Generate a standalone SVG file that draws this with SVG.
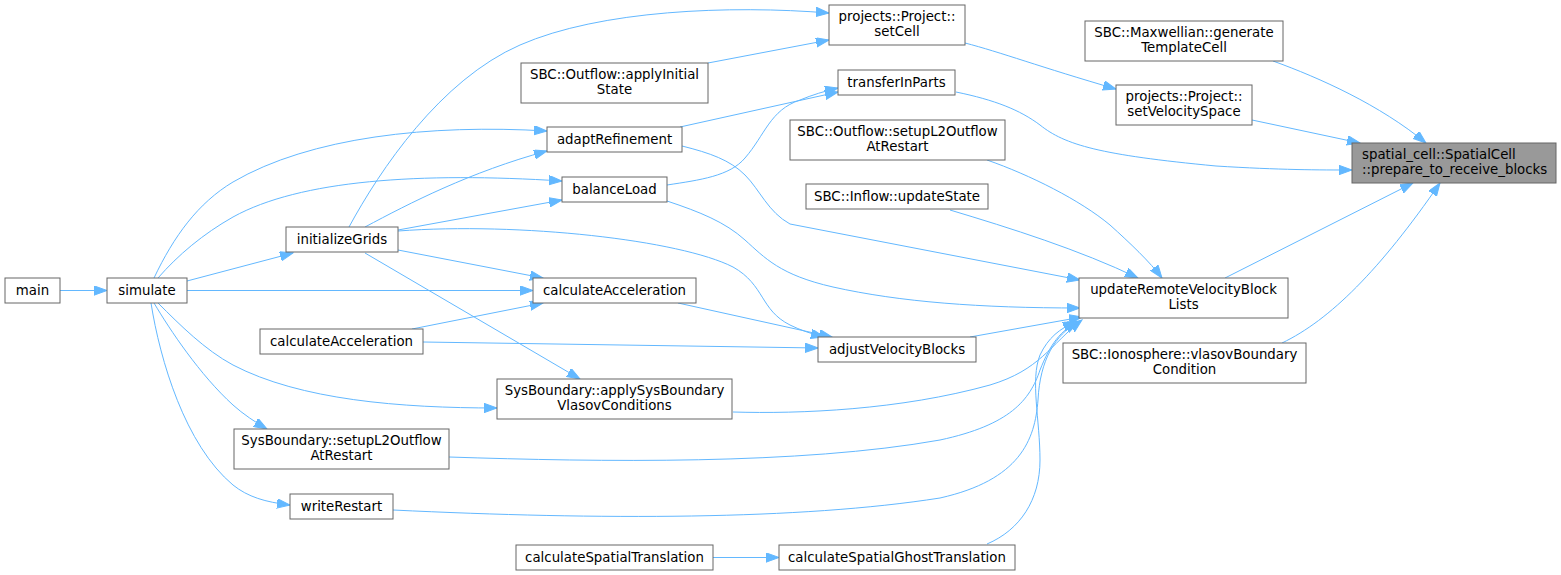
<svg xmlns="http://www.w3.org/2000/svg" width="1561" height="575" viewBox="0 0 1561 575">
<style>
.n rect{fill:#ffffff;stroke:#666666;stroke-width:1}
.n text{font-family:"DejaVu Sans",sans-serif;font-size:13.33px;fill:#000000;text-anchor:middle}
.hl rect{fill:#999999}
.hl text{text-anchor:start}
.e path{fill:none;stroke:#63b8ff;stroke-width:1;marker-end:url(#ah)}
</style>
<defs>
<marker id="ah" markerUnits="userSpaceOnUse" markerWidth="14" markerHeight="10" refX="13" refY="4.7" orient="auto">
<path d="M0,0 L13,4.7 L0,9.4 Z" fill="#63b8ff" stroke="#63b8ff" stroke-width="1"/>
</marker>
</defs>
<rect x="0" y="0" width="1561" height="575" fill="#ffffff"/>
<g id="connectors" class="e">
<path d="M60,290.5 L107,290.5"/>
<path d="M187,281 L293,253"/>
<path d="M154,278 C174,236 198,203 233,182 C310,137 430,124 547,131"/>
<path d="M158,278 C178,255 203,234 233,217 C300,180 420,172 562,181"/>
<path d="M187,290.5 L533,290.5"/>
<path d="M158,303 C180,325 205,350 233,365 C300,400 400,408 497,408"/>
<path d="M154,303 C170,330 200,375 233,405 C243,414 255,422 267,429"/>
<path d="M151,303 C160,360 185,445 233,485 C248,497 265,502 290,505"/>
<path d="M349,227 C380,170 440,80 520,45 C600,10 730,5 829,13"/>
<path d="M708,63 L829,40"/>
<path d="M365,227 C410,203 470,172 547,151"/>
<path d="M398,230 L562,200"/>
<path d="M398,231 C520,222 680,240 733,267 C765,285 760,310 790,325 C800,330 812,334 824,337"/>
<path d="M398,250 L543,278"/>
<path d="M412,329 L543,303"/>
<path d="M365,253 L580,379"/>
<path d="M423,342 L818,348"/>
<path d="M678,303 L832,337"/>
<path d="M680,127 L838,92"/>
<path d="M667,185 C700,180 730,176 745,158 C765,135 770,110 800,100 C812,95 825,91 838,88"/>
<path d="M682,146 C710,153 730,160 745,175 C760,190 768,212 790,224 L1080,280"/>
<path d="M667,201 C700,212 725,222 745,240 C765,258 780,275 833,287 C900,302 980,308 1080,308"/>
<path d="M970,337 L1082,317"/>
<path d="M733,412 C800,414 900,410 990,385 C1040,370 1050,345 1082,320"/>
<path d="M449,457 C600,462 800,465 940,440 C1010,425 1030,400 1040,370 C1050,345 1060,330 1080,321"/>
<path d="M393,510 C600,520 800,520 940,498 C1020,480 1035,440 1038,400 C1040,360 1055,335 1078,322"/>
<path d="M987,544 C1020,530 1040,500 1040,460 C1040,420 1030,380 1040,355 C1048,338 1060,328 1076,322"/>
<path d="M713,557.5 L779,557.5"/>
<path d="M987,160 C1030,175 1080,200 1110,225 C1130,243 1150,262 1162,278"/>
<path d="M950,210 C1010,228 1080,250 1138,278"/>
<path d="M965,43 C1000,52 1040,67 1116,89"/>
<path d="M1273,61 C1320,78 1380,105 1426,143"/>
<path d="M1252,120 L1360,143"/>
<path d="M956,92 C995,100 1020,110 1040,125 C1065,145 1100,155 1216,166 C1280,170 1320,170 1352,170"/>
<path d="M1225,278 L1413,183"/>
<path d="M1282,343 C1330,320 1380,270 1440,183"/>
</g>
<g id="node_main" class="n"><rect x="5" y="278" width="55" height="25"/><text x="32.5" y="294.5">main</text></g>
<g id="node_simulate" class="n"><rect x="107" y="278" width="80" height="25"/><text x="147" y="294.5">simulate</text></g>
<g id="node_initializeGrids" class="n"><rect x="286" y="227" width="112" height="25"/><text x="342" y="243.5">initializeGrids</text></g>
<g id="node_setCell" class="n"><rect x="829" y="5" width="136" height="40"/><text x="897" y="21">projects::Project::</text><text x="897" y="36">setCell</text></g>
<g id="node_applyInitialState" class="n"><rect x="521" y="63" width="187" height="40"/><text x="614.5" y="79">SBC::Outflow::applyInitial</text><text x="614.5" y="94">State</text></g>
<g id="node_transferInParts" class="n"><rect x="838" y="70" width="117" height="25"/><text x="896.5" y="86.5">transferInParts</text></g>
<g id="node_adaptRefinement" class="n"><rect x="547" y="127" width="135" height="25"/><text x="614.5" y="143.5">adaptRefinement</text></g>
<g id="node_outflowSetupL2" class="n"><rect x="790" y="120" width="215" height="40"/><text x="897.5" y="136">SBC::Outflow::setupL2Outflow</text><text x="897.5" y="151">AtRestart</text></g>
<g id="node_balanceLoad" class="n"><rect x="562" y="177" width="105" height="25"/><text x="614.5" y="193.5">balanceLoad</text></g>
<g id="node_inflowUpdateState" class="n"><rect x="806" y="184" width="182" height="25"/><text x="897" y="200.5">SBC::Inflow::updateState</text></g>
<g id="node_calcAccel1" class="n"><rect x="533" y="278" width="163" height="25"/><text x="614.5" y="294.5">calculateAcceleration</text></g>
<g id="node_calcAccel2" class="n"><rect x="260" y="329" width="163" height="25"/><text x="341.5" y="345.5">calculateAcceleration</text></g>
<g id="node_adjustVelocityBlocks" class="n"><rect x="818" y="337" width="158" height="25"/><text x="897" y="353.5">adjustVelocityBlocks</text></g>
<g id="node_applySysBoundary" class="n"><rect x="497" y="379" width="235" height="40"/><text x="614.5" y="395">SysBoundary::applySysBoundary</text><text x="614.5" y="410">VlasovConditions</text></g>
<g id="node_sysSetupL2" class="n"><rect x="234" y="429" width="215" height="40"/><text x="341.5" y="445">SysBoundary::setupL2Outflow</text><text x="341.5" y="460">AtRestart</text></g>
<g id="node_writeRestart" class="n"><rect x="290" y="494" width="103" height="25"/><text x="341.5" y="510.5">writeRestart</text></g>
<g id="node_calcSpatialTranslation" class="n"><rect x="516" y="545" width="197" height="25"/><text x="614.5" y="561.5">calculateSpatialTranslation</text></g>
<g id="node_calcSpatialGhost" class="n"><rect x="779" y="545" width="236" height="25"/><text x="897" y="561.5">calculateSpatialGhostTranslation</text></g>
<g id="node_generateTemplateCell" class="n"><rect x="1085" y="21" width="198" height="40"/><text x="1184" y="37">SBC::Maxwellian::generate</text><text x="1184" y="52">TemplateCell</text></g>
<g id="node_setVelocitySpace" class="n"><rect x="1116" y="85" width="136" height="40"/><text x="1184" y="101">projects::Project::</text><text x="1184" y="116">setVelocitySpace</text></g>
<g id="node_updateRemote" class="n"><rect x="1079" y="278" width="209" height="40"/><text x="1183.5" y="294">updateRemoteVelocityBlock</text><text x="1183.5" y="309">Lists</text></g>
<g id="node_ionosphere" class="n"><rect x="1063" y="343" width="243" height="40"/><text x="1184.5" y="359">SBC::Ionosphere::vlasovBoundary</text><text x="1184.5" y="374">Condition</text></g>
<g id="node_prepare" class="n hl"><rect x="1352" y="143" width="204" height="40"/><text x="1362" y="159">spatial_cell::SpatialCell</text><text x="1362" y="174">::prepare_to_receive_blocks</text></g>
</svg>
